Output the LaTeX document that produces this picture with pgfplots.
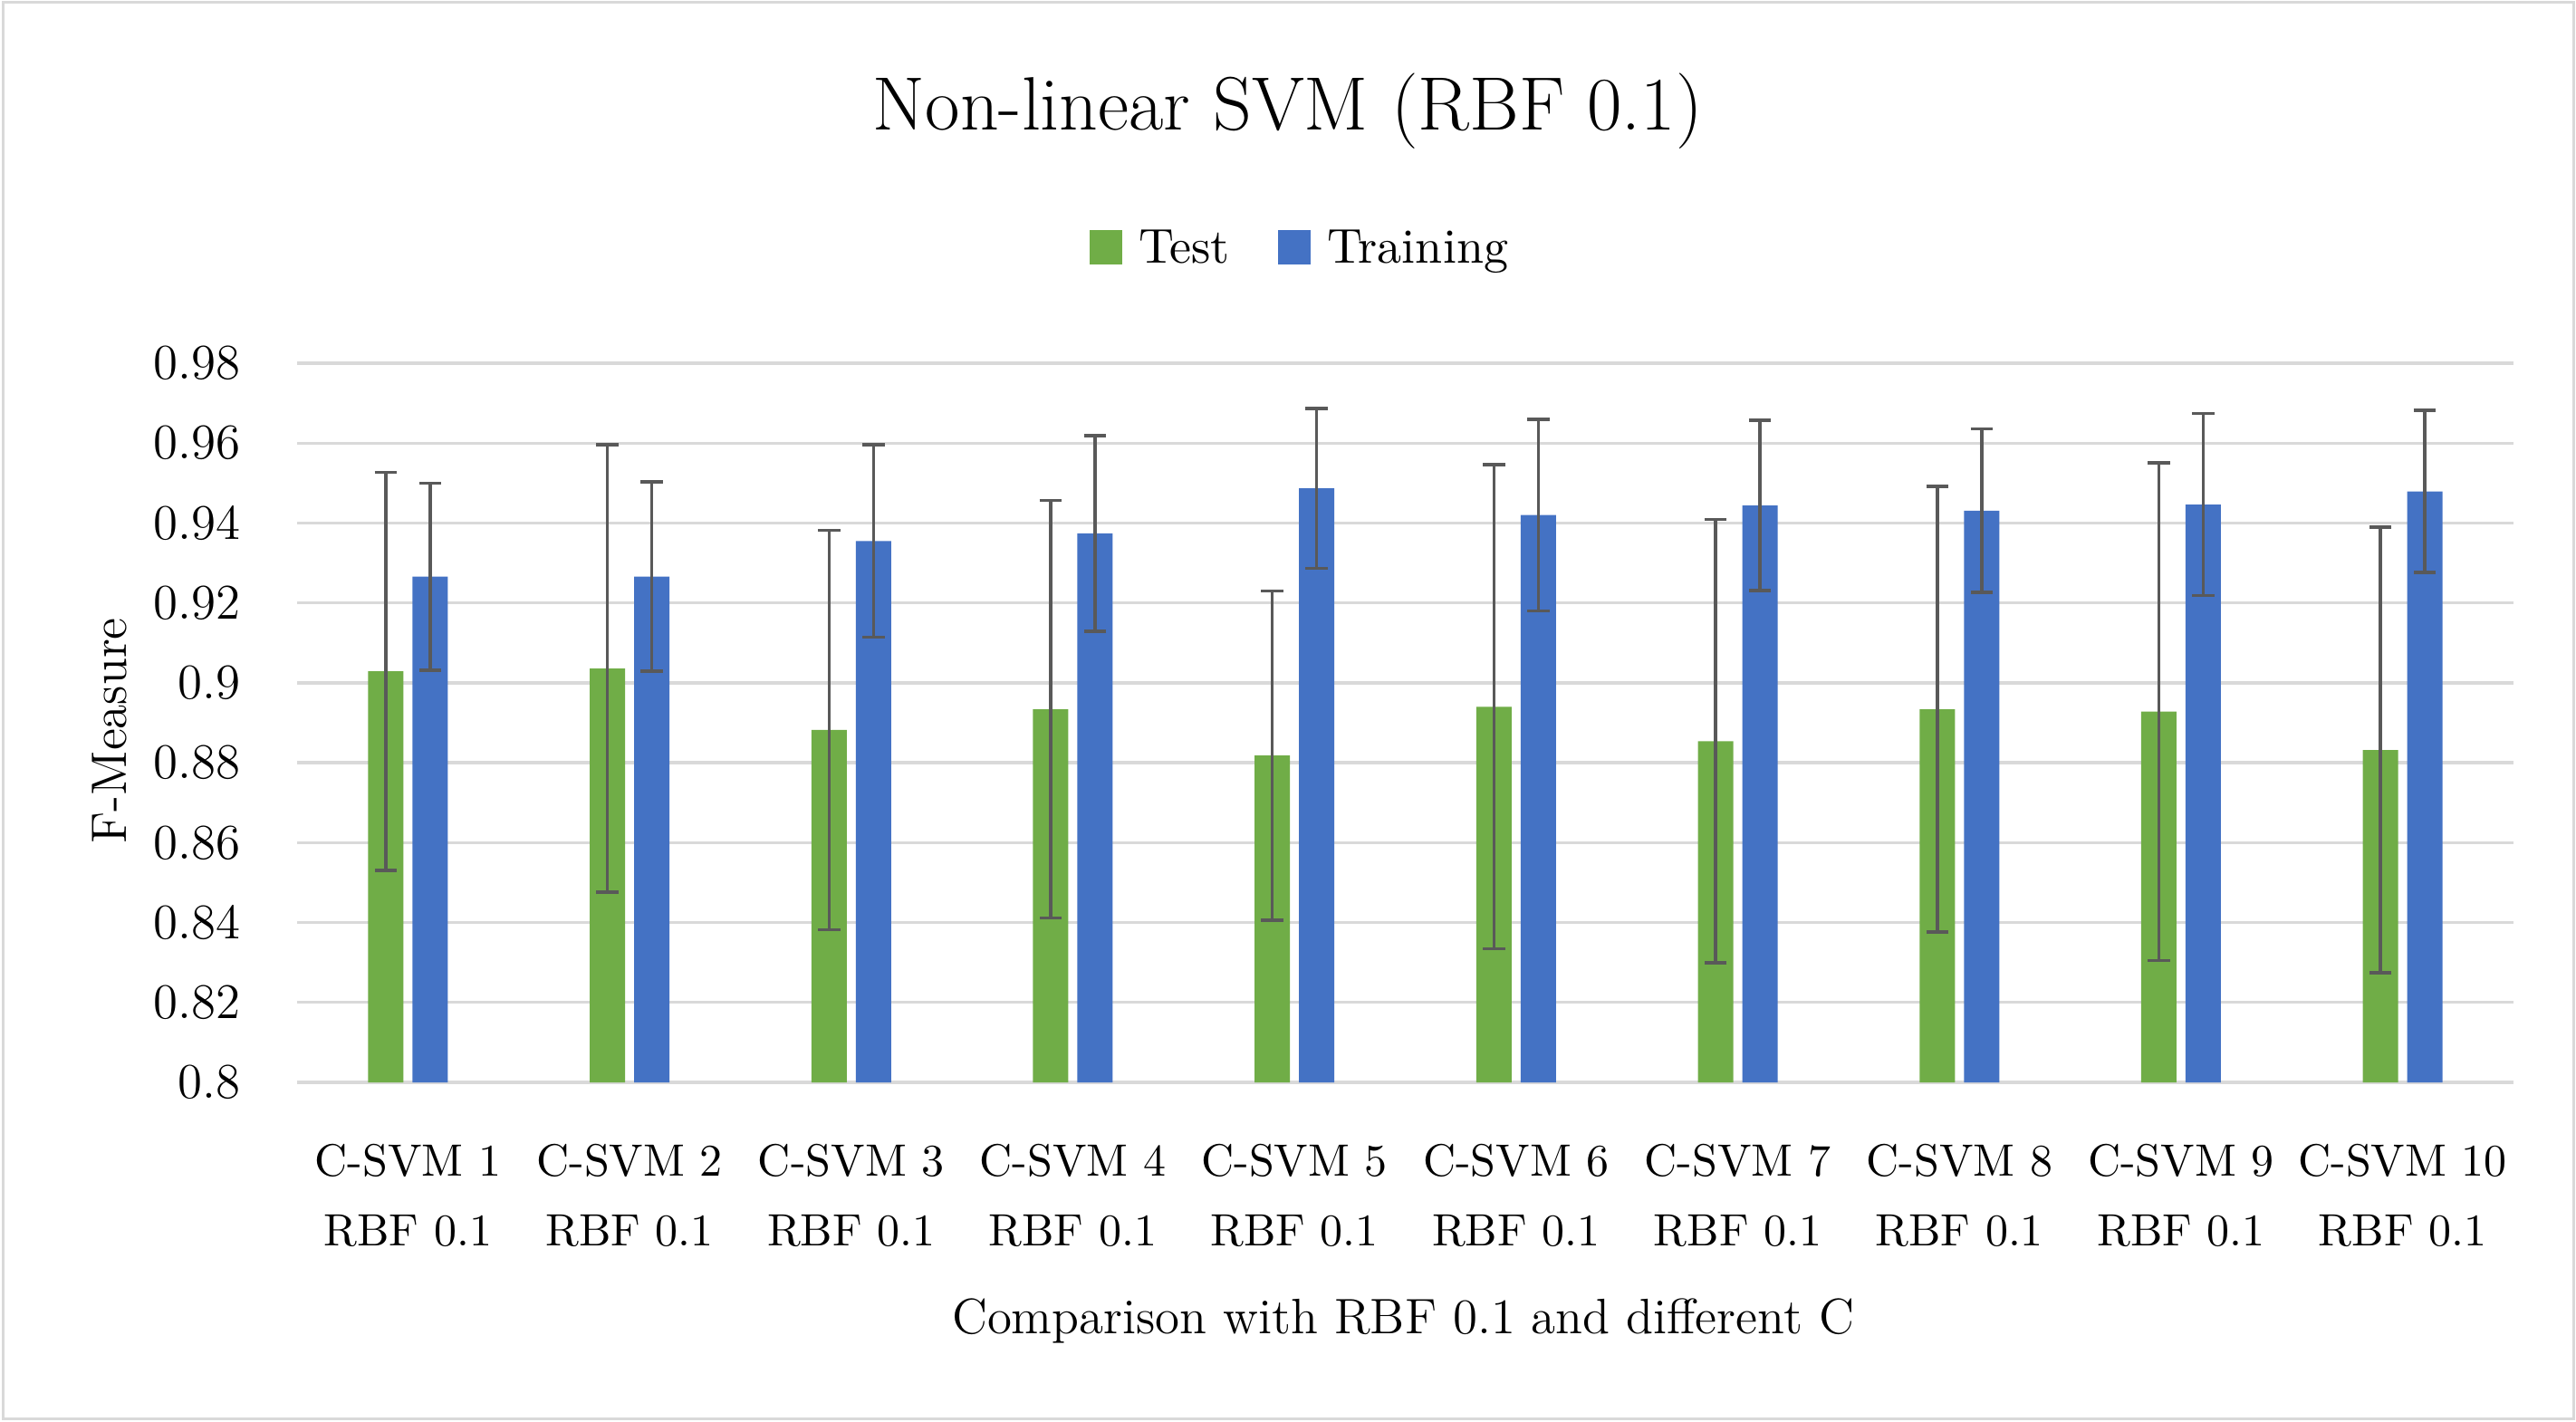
\documentclass[border=0pt]{standalone}
\usepackage{pgfplots}
\pgfplotsset{compat=1.18}
\definecolor{testgreen}{HTML}{70AD47}
\definecolor{trainblue}{HTML}{4472C4}
\definecolor{gridgray}{HTML}{D9D9D9}
\definecolor{errgray}{HTML}{595959}
\begin{document}
\begin{tikzpicture}
\path[use as bounding box] (0,0) rectangle (568.8pt,313.8pt);
\draw[gridgray, line width=0.6pt] (0.6pt,0.6pt) rectangle (568.2pt,313.2pt);
\begin{axis}[
  at={(65.6pt,74.8pt)}, anchor=south west,
  scale only axis, width=489.4pt, height=158.8pt,
  ybar=2pt, bar width=7.8pt,
  xmin=-0.5, xmax=9.5, ymin=0.8, ymax=0.98,
  xtick={0,1,2,3,4,5,6,7,8,9},
  xticklabels={{C-SVM 1\\RBF 0.1},{C-SVM 2\\RBF 0.1},{C-SVM 3\\RBF 0.1},{C-SVM 4\\RBF 0.1},{C-SVM 5\\RBF 0.1},{C-SVM 6\\RBF 0.1},{C-SVM 7\\RBF 0.1},{C-SVM 8\\RBF 0.1},{C-SVM 9\\RBF 0.1},{C-SVM 10\\RBF 0.1}},
  xticklabel style={align=center, anchor=north, inner sep=0pt, yshift=-13.4pt, font=\fontsize{10}{15.4}\selectfont},
  ytick={0.8,0.82,0.84,0.86,0.88,0.9,0.92,0.94,0.96,0.98},
  yticklabels={0.8,0.82,0.84,0.86,0.88,0.9,0.92,0.94,0.96,0.98},
  yticklabel style={anchor=east, inner sep=0pt, xshift=-12.3pt, font=\fontsize{11}{13}\selectfont},
  major tick length=0pt,
  axis line style={draw=none},
  ymajorgrids, major grid style={gridgray, line width=0.67pt},
  title={Non-linear SVM (RBF 0.1)},
  title style={at={(axis description cs:0.447,1.287)}, anchor=base, inner sep=0pt, font=\fontsize{16.7}{20}\selectfont},
  xlabel={Comparison with RBF 0.1 and different C},
  xlabel style={at={(axis description cs:0.499,-0.350)}, anchor=base, inner sep=0pt, font=\fontsize{11}{13}\selectfont},
  ylabel={F-Measure},
  ylabel style={at={(axis description cs:-0.0844,0.489)}, anchor=center, inner sep=0pt, font=\fontsize{11}{13}\selectfont},
  legend columns=2,
  legend style={at={(axis description cs:0.452,1)}, anchor=center, yshift=25pt, draw=none, inner sep=0pt,
    nodes={inner sep=0pt}, font=\fontsize{10.8}{13}\selectfont,
    column sep=3.6pt, /tikz/every even column/.append style={column sep=10.7pt}},
  legend image code/.code={\fill[#1] (0pt,-3.1pt) rectangle (7.2pt,4.5pt);},
]
\addplot[fill=testgreen, draw=none,
  error bars/.cd, y dir=both, y explicit,
  error bar style={errgray, line width=0.7pt},
  error mark options={errgray, line width=0.7pt, mark size=2.45pt, rotate=90}]
coordinates {
  (0,0.9029) +- (0,0.0498)
  (1,0.9036) +- (0,0.0560)
  (2,0.8882) +- (0,0.0500)
  (3,0.8934) +- (0,0.0523)
  (4,0.8818) +- (0,0.0412)
  (5,0.8940) +- (0,0.0606)
  (6,0.8854) +- (0,0.0555)
  (7,0.8934) +- (0,0.0558)
  (8,0.8928) +- (0,0.0623)
  (9,0.8832) +- (0,0.0558)
};
\addlegendentry{Test}
\addplot[fill=trainblue, draw=none,
  error bars/.cd, y dir=both, y explicit,
  error bar style={errgray, line width=0.7pt},
  error mark options={errgray, line width=0.7pt, mark size=2.45pt, rotate=90}]
coordinates {
  (0,0.9266) +- (0,0.0234)
  (1,0.9266) +- (0,0.0237)
  (2,0.9355) +- (0,0.0241)
  (3,0.9374) +- (0,0.0245)
  (4,0.9487) +- (0,0.0200)
  (5,0.9420) +- (0,0.0240)
  (6,0.9444) +- (0,0.0213)
  (7,0.9431) +- (0,0.0205)
  (8,0.9446) +- (0,0.0228)
  (9,0.9479) +- (0,0.0203)
};
\addlegendentry{Training}
\end{axis}
\end{tikzpicture}
\end{document}
